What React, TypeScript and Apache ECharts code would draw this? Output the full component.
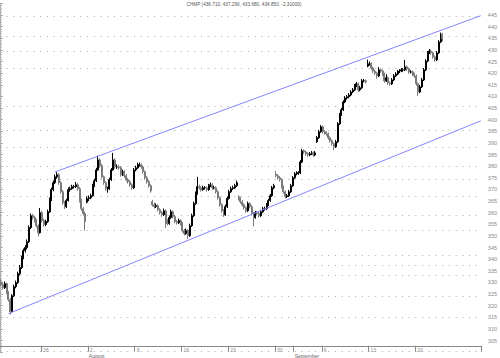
import React, { useEffect, useRef } from "react";
import * as echarts from "echarts";

const titleText = "CHMP (436.710, 437.290, 433.680, 434.850, -2.31000)";
const monthNames = ["January","February","March","April","May","June","July","August","September","October","November","December"];

const opens = [
330.2,329.1,327.8,329.5,325.6,322.6,317.5,324.3,328.2,329.9,333.8,336.4,340.7,343.7,345.0,347.5,353.6,358.7,357.9,356.6,
354.4,351.4,360.0,356.6,354.9,356.2,360.4,365.6,369.9,372.9,375.4,376.3,372.9,369.0,364.3,362.6,365.2,369.9,370.3,371.2,
371.2,372.0,370.3,365.2,361.7,359.6,364.5,366.1,366.4,367.3,371.6,373.7,378.4,382.7,380.2,375.4,372.9,370.3,370.3,374.2,
378.4,382.7,379.7,379.7,379.3,376.3,377.6,375.9,374.2,373.3,372.0,370.7,378.4,379.3,380.6,380.6,379.7,377.6,375.0,373.3,
371.6,364.8,363.4,362.6,363.0,361.3,360.0,359.1,360.8,356.6,355.3,357.9,360.4,358.3,356.2,355.7,356.6,355.3,352.3,351.0,
352.3,350.1,354.4,358.7,363.9,368.2,371.2,370.7,369.9,370.7,370.7,369.9,371.6,372.0,370.7,370.7,369.0,366.4,363.4,360.8,
359.1,362.6,366.1,369.0,370.3,370.7,371.6,366.8,366.1,364.7,363.4,362.1,360.8,363.9,362.6,359.6,357.9,360.0,359.6,358.7,
360.4,361.7,361.7,363.4,365.2,367.3,370.7,376.5,375.9,375.0,374.2,371.2,369.0,366.9,367.3,369.0,371.6,375.0,376.7,377.1,
377.1,381.8,386.6,386.1,385.3,384.8,385.3,385.7,384.8,390.5,392.2,394.8,396.9,394.8,394.3,393.9,392.2,390.9,389.6,388.3,
390.5,398.2,402.1,404.2,407.6,409.3,409.8,410.6,411.9,412.8,414.5,415.4,412.8,413.7,416.7,416.7,423.0,424.0,424.0,422.2,
420.9,420.0,418.8,421.4,420.9,419.6,416.7,418.0,415.8,415.4,417.1,418.8,419.6,420.5,420.9,421.4,421.4,422.7,421.8,420.5,
420.5,419.6,418.8,415.4,411.9,414.1,417.1,421.4,425.2,428.7,429.5,428.7,427.0,425.7,428.7,433.4,436.71
];
const highs = [
331.5,330.0,330.4,330.0,326.3,323.4,325.0,329.0,330.8,334.6,337.5,341.5,344.6,346.0,348.5,354.5,359.6,359.5,358.6,357.3,
355.0,362.0,360.8,357.4,357.0,361.3,366.5,370.8,373.8,376.4,377.4,377.0,373.6,369.7,365.0,366.0,370.8,371.2,372.0,372.0,
373.2,372.8,371.0,366.0,362.4,360.4,367.0,367.4,368.2,372.4,374.6,379.3,384.5,383.4,381.0,376.0,373.5,371.2,375.0,379.2,
385.7,383.4,380.8,380.5,380.0,378.5,378.2,376.6,374.9,374.0,372.6,379.2,380.2,381.5,381.6,381.2,380.3,378.2,375.7,374.0,
372.2,365.5,364.3,364.0,363.6,361.9,360.7,361.8,361.4,357.3,358.8,361.3,361.0,359.0,356.9,357.5,357.2,356.0,353.0,353.2,
353.0,355.3,359.6,364.8,369.1,375.4,372.0,371.4,371.6,371.4,371.3,372.4,373.0,372.7,371.6,371.3,369.6,367.0,364.0,361.5,
363.5,367.0,369.8,371.2,371.6,372.4,373.8,367.5,366.8,365.4,364.0,362.8,364.8,364.5,363.2,360.3,360.8,360.7,360.3,361.2,
362.5,362.6,364.2,366.0,368.1,371.5,372.4,377.9,376.6,375.7,374.8,371.8,369.6,368.0,369.8,372.4,375.8,377.5,377.8,377.8,
382.6,387.4,387.2,386.7,385.9,386.1,386.5,386.3,386.5,393.0,395.6,397.7,397.5,395.5,395.0,394.5,392.8,391.5,390.2,391.3,
399.0,402.9,405.0,408.4,410.1,410.6,411.4,412.7,413.6,415.3,416.2,416.0,414.5,417.5,417.5,417.3,425.8,425.0,424.6,422.8,
421.5,420.6,422.6,422.0,421.5,420.2,419.5,418.6,416.4,417.9,419.6,420.4,421.3,421.7,422.2,422.1,425.7,423.3,422.4,421.3,
421.1,420.2,419.4,416.0,414.9,417.9,422.2,426.0,429.5,430.4,430.1,429.3,427.6,429.5,434.2,437.4,437.29
];
const lows = [
328.4,327.0,327.2,325.0,321.8,316.2,317.0,323.8,327.5,329.4,333.0,335.8,340.0,342.9,344.2,347.0,353.0,357.0,355.8,353.6,
349.8,351.0,355.8,354.0,354.2,355.6,359.9,365.0,369.2,372.3,374.6,372.0,368.2,363.4,361.6,362.0,364.8,369.0,369.8,370.4,
370.6,369.4,364.4,360.8,358.8,352.3,364.0,365.0,365.8,366.9,371.0,373.2,378.0,379.3,374.6,372.0,369.4,368.6,369.8,373.6,
378.0,378.9,378.8,378.4,375.5,375.8,375.0,373.4,372.5,371.2,369.9,370.2,377.8,378.8,379.8,378.9,376.8,374.2,372.5,370.8,
368.6,362.6,361.8,362.0,360.5,359.2,358.2,358.6,353.5,354.5,354.8,357.3,357.5,355.4,354.9,355.1,354.5,351.5,350.2,350.5,
348.7,349.6,353.9,358.2,363.4,367.7,369.9,369.1,369.4,369.9,369.1,369.4,371.0,369.9,370.0,368.2,365.6,362.6,360.0,358.2,
358.6,362.0,365.6,368.5,369.8,370.2,371.1,365.3,363.9,362.6,361.3,360.0,360.3,361.8,358.8,354.1,357.4,358.8,357.9,358.2,
359.9,360.9,361.2,362.9,364.7,366.8,370.1,375.2,374.2,373.4,370.4,368.2,366.1,366.3,366.8,368.5,371.1,374.5,376.1,376.3,
376.6,381.3,385.3,384.5,384.0,384.3,384.8,384.0,384.3,390.0,391.7,394.3,394.0,393.5,393.1,391.4,390.1,388.8,386.9,387.8,
390.0,397.7,401.6,403.7,407.1,408.6,409.2,410.1,411.4,412.3,414.0,412.0,412.2,413.2,416.0,415.5,422.5,423.2,421.4,420.1,
419.2,417.6,418.3,420.1,418.8,415.9,416.2,415.0,414.6,414.9,416.6,418.3,419.1,420.0,420.4,420.6,420.9,421.0,419.7,419.8,
418.8,418.0,414.6,410.2,411.4,413.6,416.6,420.9,424.7,428.2,427.9,426.2,424.9,425.2,428.2,432.9,433.68
];
const closes = [
329.1,327.8,329.5,325.6,322.6,317.5,324.3,328.2,329.9,333.8,336.4,340.7,343.7,345.0,347.5,353.6,358.7,357.9,356.6,354.4,
351.4,360.0,356.6,354.9,356.2,360.4,365.6,369.9,372.9,375.4,376.3,372.9,369.0,364.3,362.6,365.2,369.9,370.3,371.2,371.2,
372.0,370.3,365.2,361.7,359.6,356.2,366.1,366.4,367.3,371.6,373.7,378.4,382.7,380.2,375.4,372.9,370.3,370.3,374.2,378.4,
382.7,379.7,379.7,379.3,376.3,377.6,375.9,374.2,373.3,372.0,370.7,378.4,379.3,380.6,380.6,379.7,377.6,375.0,373.3,371.6,
369.4,363.4,362.6,363.0,361.3,360.0,359.1,360.8,356.6,355.3,357.9,360.4,358.3,356.2,355.7,356.6,355.3,352.3,351.0,352.3,
350.1,354.4,358.7,363.9,368.2,371.2,370.7,369.9,370.7,370.7,369.9,371.6,372.0,370.7,370.7,369.0,366.4,363.4,360.8,359.1,
362.6,366.1,369.0,370.3,370.7,371.6,372.9,366.1,364.7,363.4,362.1,360.8,363.9,362.6,359.6,357.9,360.0,359.6,358.7,360.4,
361.7,361.7,363.4,365.2,367.3,370.7,371.6,375.9,375.0,374.2,371.2,369.0,366.9,367.3,369.0,371.6,375.0,376.7,377.1,377.1,
381.8,386.6,386.1,385.3,384.8,385.3,385.7,384.8,385.7,392.2,394.8,396.9,394.8,394.3,393.9,392.2,390.9,389.6,388.3,390.5,
398.2,402.1,404.2,407.6,409.3,409.8,410.6,411.9,412.8,414.5,415.4,412.8,413.7,416.7,416.7,416.2,424.0,424.0,422.2,420.9,
420.0,418.8,421.4,420.9,419.6,416.7,418.0,415.8,415.4,417.1,418.8,419.6,420.5,420.9,421.4,421.4,422.7,421.8,420.5,420.5,
419.6,418.8,415.4,411.9,414.1,417.1,421.4,425.2,428.7,429.5,428.7,427.0,425.7,428.7,433.4,436.6,434.85
];

// channel lines: [slot position, price]
const upperChannel = [[29.3, 377.5], [257, 444.7]];
const lowerChannel = [[4.5, 316.6], [257, 399.5]];

// dotted horizontal grid levels
const gridLevels = [444.4, 436.0, 429.3, 422.3, 405.6, 395.3, 388.0, 380.0, 374.4, 367.0, 359.1, 352.4, 341.6, 337.6, 333.0, 324.0, 315.0, 300.3];

const startDayUTC = Date.UTC(2004, 6, 19);
const tradingDayCount = 52;
const barsPerDay = 5;
const skipFirstSlots = 3;

export default function App() {
  const ref = useRef<HTMLDivElement>(null);
  useEffect(() => {
    if (!ref.current) return;
    const chart = echarts.init(ref.current, null, { renderer: "svg" });

    const days: { m: number; d: number; dow: number }[] = [];
    let t = startDayUTC;
    while (days.length < tradingDayCount) {
      const dt = new Date(t);
      const dow = dt.getUTCDay();
      if (dow > 0 && dow < 6) days.push({ m: dt.getUTCMonth(), d: dt.getUTCDate(), dow });
      t += 86400000;
    }
    const cats: string[] = [];
    days.forEach((_, di) => {
      for (let k = 0; k < barsPerDay; k++) cats.push(di + "-" + k);
    });
    const categories = cats.slice(skipFirstSlots);
    const info = (v: string) => {
      const [di, k] = v.split("-").map(Number);
      const day = days[di];
      const monthStart = di > 0 && days[di - 1].m !== day.m;
      const weekStart = day.dow === 1;
      return { k, day, monthStart, weekStart };
    };
    const isMark = (i: number, v: string) => {
      if (i >= closes.length) return false;
      const f = info(v);
      return f.k === 0 && (f.weekStart || f.monthStart);
    };

    const candleData = closes.map((c, i) => [opens[i], c, lows[i], highs[i]]);
    const font = "Liberation Sans";
    const scale = 2.329;
    const top = 3.35;
    const height = 150 * scale;
    const bottom = 358 - top - height;

    chart.setOption({
      animation: false,
      backgroundColor: "#ffffff",
      textStyle: { fontFamily: font },
      grid: { left: 0, right: 18, top, bottom, containLabel: false },
      graphic: [
        {
          type: "text",
          x: 244,
          y: 4.6,
          style: {
            text: titleText,
            fontSize: 4.7,
            fontFamily: font,
            fill: "#555",
            textAlign: "center",
            textVerticalAlign: "middle",
          },
        },
      ],
      xAxis: [
        {
          type: "category",
          data: categories,
          boundaryGap: true,
          offset: -6.5,
          axisLine: { show: true, lineStyle: { color: "#888", width: 1 } },
          axisTick: { show: true, interval: isMark, length: 6, lineStyle: { color: "#888" } },
          axisLabel: {
            show: true,
            interval: isMark,
            hideOverlap: false,
            margin: 1,
            align: "left",
            verticalAlign: "top",
            formatter: (v: string) => {
              const f = info(v);
              const dayTxt = f.weekStart ? String(f.day.d) : " ";
              if (f.monthStart) return "{d|" + dayTxt + "}\n{m|" + monthNames[f.day.m] + "}";
              return "{d|" + dayTxt + "}";
            },
            rich: {
              d: { fontSize: 5, lineHeight: 6, color: "#888", fontFamily: font, padding: [0, 0, 0, 1] },
              m: { fontSize: 5, lineHeight: 5.5, color: "#666", fontFamily: font },
            },
          },
          splitLine: { show: false },
        },
        {
          type: "value",
          min: 0,
          max: 257,
          show: false,
        },
      ],
      yAxis: {
        type: "value",
        position: "right",
        min: 300,
        max: 450,
        interval: 5,
        axisLine: { show: true, lineStyle: { color: "#aaa", width: 1 } },
        axisTick: { show: true, length: 3, lineStyle: { color: "#aaa" } },
        minorTick: { show: true, splitNumber: 5, length: 2, lineStyle: { color: "#bbb" } },
        axisLabel: {
          margin: 7,
          fontSize: 5.5,
          color: "#888",
          fontFamily: font,
          showMinLabel: true,
          showMaxLabel: true,
          hideOverlap: false,
          formatter: (v: number) => (v === 300 || v === 450 ? "" : String(v)),
        },
        splitLine: { show: false },
      },
      series: [
        {
          type: "candlestick",
          xAxisIndex: 0,
          yAxisIndex: 0,
          data: candleData,
          barWidth: 1.5,
          z: 3,
          itemStyle: {
            color: "#000000",
            color0: "#7a7a7a",
            borderColor: "#000000",
            borderColor0: "#7a7a7a",
            borderWidth: 1,
          },
          markLine: {
            silent: true,
            symbol: "none",
            animation: false,
            label: { show: false },
            lineStyle: { color: "#a8a8a8", width: 1, type: [1, 5.7] },
            data: gridLevels.map((v) => ({ yAxis: v })),
            z: 1,
          },
        },
        {
          type: "line",
          xAxisIndex: 1,
          yAxisIndex: 0,
          data: upperChannel,
          symbol: "none",
          silent: true,
          z: 4,
          lineStyle: { color: "#8585ff", width: 1 },
        },
        {
          type: "line",
          xAxisIndex: 1,
          yAxisIndex: 0,
          data: lowerChannel,
          symbol: "none",
          silent: true,
          z: 4,
          lineStyle: { color: "#8585ff", width: 1 },
        },
      ],
    });
    return () => chart.dispose();
  }, []);
  return (
    <div
      ref={ref}
      style={{ position: "fixed", left: 0, top: 0, width: 500, height: 358, background: "#fff" }}
    />
  );
}
